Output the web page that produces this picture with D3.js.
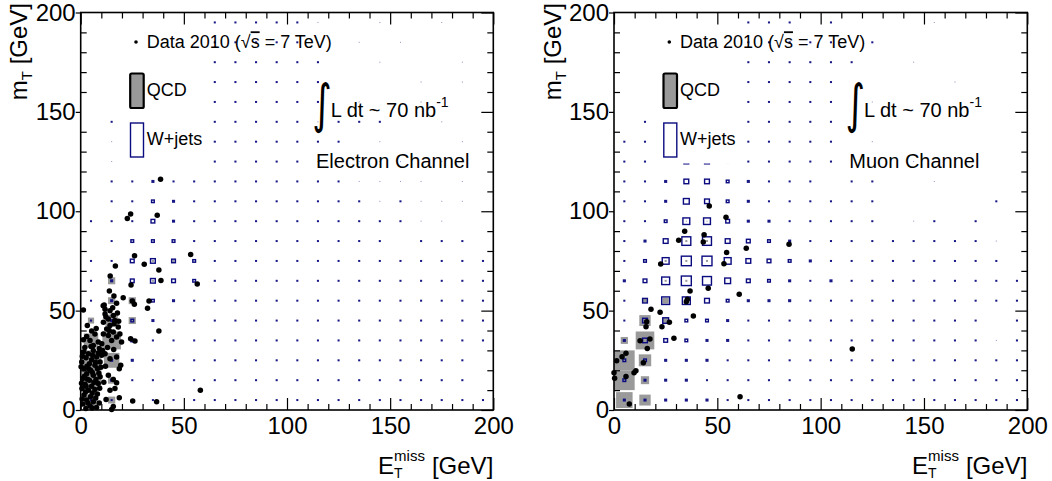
<!DOCTYPE html>
<html><head><meta charset="utf-8">
<script src="https://cdn.jsdelivr.net/npm/d3@7"></script>
<style>
body{margin:0;background:#fff}
text{font-family:"Liberation Sans",Arial,Helvetica,sans-serif;fill:#000}
</style>
</head><body>
<svg id="c" width="1052" height="481" style="background:#fff"></svg>
<script>
// ---------------- DATA ----------------
const binLo = [0,10,20,30,40,50,60,70,80,90,100,110,120,130,140,150,160,170,180,190];
const binWidth = 10;
const tickVals = [0,50,100,150,200];
const tickLabels = ["0","50","100","150","200"];
const xTitle = {main:"E", sub:"T", sup:"miss", unit:"[GeV]"};
const yTitle = {main:"m", sub:"T", unit:" [GeV]"};
const legendLabels = ["Data 2010 (", "√", "s", " = 7 TeV)", "QCD", "W+jets"];
const lumiLabel = ["∫", "L dt ~ 70 nb", "-1"];
const chanLabels = ["Electron Channel", "Muon Channel"];

// W+jets bin contents (box size units, 20 = full bin). Rows: mT 190-200 (top) ... 0-10 (bottom); columns: MET 0-10 ... 190-200
const eWjets = [
 [0,0,0,0,0,0,2,2,2,2,2,1,0,0,1,0,0,1,0,0],
 [0,0,0,0,0,0,2,2,2,2,2,1,0,1,0,1,0,0,0,0],
 [0,0,0,0,0,0,2,2,2,2,2,2,0,0,1,0,0,0,1,0],
 [0,0,0,0,0,0,2,2,2,2,2,2,0,0,0,0,1,0,1,0],
 [0,0,0,0,0,0,2,2,2,2,2,2,0,1,0,0,1,0,0,0],
 [0,2,0,0,0,0,2,2,2,2,2,1,2,2,2,0,0,1,0,0],
 [0,1,0,0,0,0,2,2,2,2,2,2,2,0,1,0,0,0,1,0],
 [0,1,0,0,0,0,2,2,2,2,2,1,1,1,1,1,0,1,0,0],
 [0,2,2,3,2,2,2,2,2,2,2,2,2,1,1,1,1,0,1,0],
 [0,2,2,4,3,2,2,2,2,2,2,2,2,2,1,2,1,1,1,0],
 [2,2,2,5,3,2,2,2,2,2,2,2,2,2,2,2,1,1,0,0],
 [0,2,4,4,4,2,2,2,2,2,2,2,2,2,2,0,2,2,2,0],
 [2,2,5,6,5,4,2,2,2,2,2,2,2,2,2,2,2,2,2,2],
 [2,3,5,6,5,4,2,2,2,2,2,2,2,2,2,2,2,2,2,2],
 [2,3,4,4,3,2,2,2,2,2,2,2,2,2,2,2,2,2,2,2],
 [2,3,4,3,2,2,2,2,2,2,2,2,2,2,2,2,2,2,2,2],
 [2,3,4,2,2,2,2,2,2,2,2,2,2,2,2,2,2,2,2,2],
 [2,3,3,2,2,2,2,2,2,2,2,2,2,2,2,2,2,2,2,0],
 [2,3,2,2,2,2,2,2,2,2,2,2,2,2,2,2,2,2,2,0],
 [2,2,2,2,2,2,2,2,2,2,2,2,2,2,2,2,2,2,2,2]
];
const eQCD = [
 [0,0,0,0,0,0,0,0,0,0,0,0,0,0,0,0,0,0,0,0],
 [0,0,0,0,0,0,0,0,0,0,0,0,0,0,0,0,0,0,0,0],
 [0,0,0,0,0,0,0,0,0,0,0,0,0,0,0,0,0,0,0,0],
 [0,0,0,0,0,0,0,0,0,0,0,0,0,0,0,0,0,0,0,0],
 [0,0,0,0,0,0,0,0,0,0,0,0,0,0,0,0,0,0,0,0],
 [0,0,0,0,0,0,0,0,0,0,0,0,0,0,0,0,0,0,0,0],
 [0,0,0,0,0,0,0,0,0,0,0,0,0,0,0,0,0,0,0,0],
 [0,0,0,0,0,0,0,0,0,0,0,0,0,0,0,0,0,0,0,0],
 [0,0,0,0,0,0,0,0,0,0,0,0,0,0,0,0,0,0,0,0],
 [0,0,0,0,0,0,0,0,0,0,0,0,0,0,0,0,0,0,0,0],
 [0,0,0,0,0,0,0,0,0,0,0,0,0,0,0,0,0,0,0,0],
 [0,0,0,0,0,0,0,0,0,0,0,0,0,0,0,0,0,0,0,0],
 [0,0,0,2,2,0,0,0,0,0,0,0,0,0,0,0,0,0,0,0],
 [0,7,0,2,0,0,0,0,0,0,0,0,0,0,0,0,0,0,0,0],
 [0,7,7,0,0,0,0,0,0,0,0,0,0,0,0,0,0,0,0,0],
 [6,12,7,0,0,0,0,0,0,0,0,0,0,0,0,0,0,0,0,0],
 [14,18,0,0,0,0,0,0,0,0,0,0,0,0,0,0,0,0,0,0],
 [20,15,0,0,0,0,0,0,0,0,0,0,0,0,0,0,0,0,0,0],
 [20,7,0,0,0,0,0,0,0,0,0,0,0,0,0,0,0,0,0,0],
 [13,7,0,0,0,0,0,0,0,0,0,0,0,0,0,0,0,0,0,0]
];
const mWjets = [
 [0,0,0,0,0,0,2,2,2,0,2,0,0,0,0,1,0,0,0,0],
 [0,0,0,0,0,0,2,2,2,2,2,0,2,0,0,0,0,0,0,0],
 [0,0,0,0,0,0,2,2,2,2,2,2,0,0,1,0,0,0,0,0],
 [0,0,0,0,0,0,2,2,2,2,2,0,0,0,0,0,1,0,0,0],
 [0,0,0,0,0,0,2,2,2,2,2,0,1,0,0,0,0,0,0,0],
 [0,2,0,0,0,0,2,2,2,2,2,0,0,0,0,0,0,0,0,0],
 [2,2,0,0,0,0,2,2,2,2,2,0,1,0,0,0,0,0,0,0],
 [2,2,2,6,6,3,2,2,2,2,2,0,0,0,1,0,0,0,0,0],
 [2,2,3,6,6,4,3,2,2,2,0,2,2,0,0,1,0,0,0,0],
 [2,2,3,7,6,4,3,2,2,2,2,2,2,0,0,0,0,0,2,0],
 [2,2,4,8,8,5,3,3,2,2,2,2,2,0,1,2,0,2,0,0],
 [2,3,6,10,10,6,5,4,3,2,2,2,2,2,2,2,2,2,1,0],
 [2,4,8,11,11,8,6,5,4,3,2,2,2,2,2,2,2,2,2,0],
 [3,5,9,11,10,7,5,4,3,2,3,2,2,2,2,2,2,2,2,2],
 [2,6,9,9,6,4,3,3,3,2,2,2,2,2,2,2,2,2,2,2],
 [2,6,7,4,4,3,2,2,2,2,2,2,2,2,2,2,2,2,0,2],
 [3,6,5,4,3,3,2,2,2,2,2,2,2,2,2,2,2,2,1,2],
 [4,4,3,3,3,2,2,2,2,2,2,2,2,2,2,2,2,2,2,2],
 [4,3,3,3,2,2,2,2,2,2,2,2,2,2,2,2,2,2,2,2],
 [3,3,3,3,3,2,2,2,2,2,2,2,2,2,2,2,2,2,2,2]
];
const mQCD = [
 [0,0,0,0,0,0,0,0,0,0,0,0,0,0,0,0,0,0,0,0],
 [0,0,0,0,0,0,0,0,0,0,0,0,0,0,0,0,0,0,0,0],
 [0,0,0,0,0,0,0,0,0,0,0,0,0,0,0,0,0,0,0,0],
 [0,0,0,0,0,0,0,0,0,0,0,0,0,0,0,0,0,0,0,0],
 [0,0,0,0,0,0,0,0,0,0,0,0,0,0,0,0,0,0,0,0],
 [0,0,0,0,0,0,0,0,0,0,0,0,0,0,0,0,0,0,0,0],
 [0,0,0,0,0,0,0,0,0,0,0,0,0,0,0,0,0,0,0,0],
 [0,0,0,0,0,0,0,0,0,0,0,0,0,0,0,0,0,0,0,0],
 [0,0,0,0,0,0,0,0,0,0,0,0,0,0,0,0,0,0,0,0],
 [0,0,0,0,0,0,0,0,0,0,0,0,0,0,0,0,0,0,0,0],
 [0,0,0,1,1,0,0,0,0,0,0,0,0,0,0,0,0,0,0,0],
 [0,0,0,2,2,0,0,0,0,0,0,0,0,0,0,0,0,0,0,0],
 [0,0,2,2,2,0,0,0,0,0,0,0,0,0,0,0,0,0,0,0],
 [0,0,2,2,0,0,0,0,0,0,0,0,0,0,0,0,0,0,0,0],
 [0,4,6,0,0,0,0,0,0,0,0,0,0,0,0,0,0,0,0,0],
 [0,11,6,0,0,0,0,0,0,0,0,0,0,0,0,0,0,0,0,0],
 [7,18,0,0,0,0,0,0,0,0,0,0,0,0,0,0,0,0,0,0],
 [20,12,0,0,0,0,0,0,0,0,0,0,0,0,0,0,0,0,0,0],
 [20,8,0,0,0,0,0,0,0,0,0,0,0,0,0,0,0,0,0,0],
 [16,11,0,0,0,0,0,0,0,0,0,0,0,0,0,0,0,0,0,0]
];

// Data 2010 events [MET, mT] in GeV
const eData = [
 [38.7,116.1],[24.2,98.6],[22.6,96.4],[37.1,98.0],[26.1,77.6],[16.8,72.5],[30.8,73.3],[37.9,70.4],
 [53.3,78.3],[38.9,65.1],[56.5,63.4],[14.3,67.4],[24.4,62.9],[13.9,59.9],[16.1,57.4],[20.6,56.5],
 [11.4,52.8],[17.4,53.7],[15.5,51.5],[25,54.8],[26,53.2],[33.1,54.8],[32.4,51.2],[11.8,50.7],
 [1.3,50.3],[10.9,52.5],[14.2,50],[11.8,48.3],[15.8,47.5],[13.4,45.8],[11,44.2],[16.6,45],
 [14.2,42.5],[18.2,41.7],[12.6,40.8],[15.8,39.2],[19,38.3],[11,38.3],[13.4,37.5],[17.4,36.7],
 [15,35],[19.8,34.2],[10.2,33.3],[12.2,46.8],[17.8,48.8],[16.2,43.4],[13.8,40],[18.4,44.6],
 [37.9,39.7],[24.2,35.8],[26.3,34.7],
 [5.3,39.7],[6.9,38.3],[2.9,37],[1.3,35.3],[4.5,35],[8.5,34.2],[6.1,32.5],[3.2,42.5],[7.5,41],
 [1.3,29.2],[3.7,28.3],[6.1,30],[8.5,28.7],[10.2,27.5],[2.6,26.3],[5.3,25.3],[7.7,26.7],
 [0.5,24.2],[4.2,23.3],[6.9,22.5],[9.4,24.2],[1.6,20.8],[4.8,20],[8.1,20.8],[2.9,18.3],
 [6.1,17.5],[1,15.8],[4.2,15],[7.4,15.3],[2.1,13],[5.3,12],[8.5,13.3],[0.6,10.8],
 [3.7,10],[6.9,10.3],[1.6,7.5],[4.8,6.7],[8.1,8],[2.9,5],[6.1,4.2],[1,3],
 [4.5,2],[7.7,1.3],[2.6,12],[9.4,16.7],[5.8,27.5],[10.6,30],[0.2,21.7],[3.9,20.8],
 [2,31.5],[5,32],[9,31],[0.8,27],[3,22],[7.2,24],[9.8,21.5],[1.8,17],
 [5.6,19],[8.8,18.5],[0.4,13.5],[3.3,15.5],[6.4,13.8],[9.2,11],[2.3,9],[5.6,8.5],
 [7.3,6],[0.7,5.5],[3.5,3.5],[5.5,1],[9,3.5],[2.5,0.8],
 [11.8,28.3],[14.2,25.8],[17.4,26.7],[19.4,22.5],[18.7,20.8],[13.4,17.5],[15.8,15.3],[17.4,13.7],
 [14.2,10],[16.6,10.8],[12.3,5.3],[18.7,6.2],[15.8,1.7],[15,0.3],[12,22],[11.2,14],[13,31.5],[16,30.5],
 [25.2,4.5],[36.8,4.2],[58,10]
];
const mData = [
 [46.1,102.6],[54.2,97],[34.2,89.9],[31.3,85.4],[43.6,88.2],[43.2,84.5],[64,81.4],[84.7,83.4],
 [54.5,79.3],[53.2,73.6],[22.6,73.5],[36.8,59.9],[45.6,61.2],[60.6,58.2],[35.5,55.7],[35,54.5],
 [17.9,50.7],[22.3,49.2],[38.4,47.3],[26.8,44.1],[15.8,44.4],[15.5,41.9],[23.2,41.9],[29,36.1],
 [17.4,35.7],[12.6,34.9],[16.1,30.9],[5.8,28.5],[3.9,26.8],[1.3,24.8],[14.2,23.8],[10.6,19.8],
 [9.7,18.8],[0,18.8],[0.3,16],[5.8,16.8],[7.4,3],[61,6.7],[115.3,30.7]
];

// ---------------- DRAWING ----------------
const svg = d3.select('#c');
const Y0 = 410, Y1 = 12.5;
const NAVY = '#0b0b80', GREY = '#9a9a9a';
const FONT = '"Liberation Sans",Arial,Helvetica,sans-serif';

const panels = [
 {x0:80.7, x1:493.3, wj:eWjets, qcd:eQCD, data:eData, channel:chanLabels[0]},
 {x0:614, x1:1027.3, wj:mWjets, qcd:mQCD, data:mData, channel:chanLabels[1]}
];
panels.forEach(drawPanel);

function drawPanel(p){
  const x = d3.scaleLinear().domain([0,200]).range([p.x0,p.x1]);
  const y = d3.scaleLinear().domain([0,200]).range([Y0,Y1]);
  const bw = x(binWidth)-x(0), bh = y(0)-y(binWidth);
  const sx = d3.scaleLinear().domain([0,20]).range([0,bw]);
  const sy = d3.scaleLinear().domain([0,20]).range([0,bh]);
  const nRows = binLo.length;
  const cells = m => m.flatMap((row,r)=>row.map((v,i)=>({
      cx: binLo[i]+binWidth/2, cy: binLo[nRows-1-r]+binWidth/2, v})).filter(d=>d.v>0));
  const g = svg.append('g');

  // QCD grey boxes
  g.append('g').selectAll('rect').data(cells(p.qcd)).join('rect')
    .attr('x',d=>x(d.cx)-sx(d.v)/2).attr('y',d=>y(d.cy)-sy(d.v)/2)
    .attr('width',d=>sx(d.v)).attr('height',d=>sy(d.v))
    .attr('fill',GREY);

  // W+jets boxes
  const wc = cells(p.wj);
  const big = wc.filter(d=>d.v>=4), small = wc.filter(d=>d.v<4);
  const sw = 1.4;
  g.append('g').selectAll('rect').data(big).join('rect')
    .attr('x',d=>x(d.cx)-sx(d.v)/2+sw/2).attr('y',d=>y(d.cy)-sy(d.v)/2+sw/2)
    .attr('width',d=>sx(d.v)-sw).attr('height',d=>sy(d.v)-sw)
    .attr('fill','none').attr('stroke',NAVY).attr('stroke-width',sw);
  g.append('g').selectAll('rect').data(small).join('rect')
    .attr('x',d=>x(d.cx)-sx(d.v)/2).attr('y',d=>y(d.cy)-sy(d.v)/2)
    .attr('width',d=>sx(d.v)).attr('height',d=>sy(d.v))
    .attr('fill',NAVY).attr('fill-opacity',d=>d.v<2?0.45:0.95);

  // data points
  g.append('g').selectAll('circle').data(p.data).join('circle')
    .attr('cx',d=>x(d[0])).attr('cy',d=>y(d[1])).attr('r',2.75).attr('fill','#000');

  // legend (white box)
  const lx = p.x0;
  g.append('rect').attr('x',lx+37.5).attr('y',Y1+1).attr('width',87.5).attr('height',150)
    .attr('fill','#fff');
  g.append('circle').attr('cx',lx+55.3).attr('cy',42).attr('r',1.8).attr('fill','#000');
  const t1 = g.append('text').attr('x',lx+66).attr('y',48.3).attr('font-size',18);
  t1.append('tspan').text(legendLabels[0]);
  t1.append('tspan').text(legendLabels[1]);
  t1.append('tspan').text(legendLabels[2]).style('text-decoration','overline');
  t1.append('tspan').text(legendLabels[3]);
  g.append('rect').attr('x',lx+49.5).attr('y',73.5).attr('width',13.5).attr('height',34.5)
    .attr('rx',1.5).attr('fill','#999').attr('stroke','#000').attr('stroke-width',2.2);
  g.append('text').attr('x',lx+66).attr('y',96).attr('font-size',18).text(legendLabels[4]);
  g.append('rect').attr('x',lx+49.8).attr('y',123).attr('width',13).attr('height',34)
    .attr('fill','#fff').attr('stroke',NAVY).attr('stroke-width',1.4);
  g.append('text').attr('x',lx+66).attr('y',144.5).attr('font-size',18).text(legendLabels[5]);

  // luminosity + channel
  g.append('text').attr('transform',`translate(${lx+231.5},122) scale(0.85,1.2)`).attr('font-size',44)
    .style('font-family','"DejaVu Sans",sans-serif').text(lumiLabel[0]);
  const t2 = g.append('text').attr('x',lx+250).attr('y',117.3).attr('font-size',20);
  t2.append('tspan').text(lumiLabel[1]);
  t2.append('tspan').attr('font-size',14).attr('dy',-10).text(lumiLabel[2]);
  g.append('text').attr('x',lx+235.3).attr('y',168.3).attr('font-size',20).text(p.channel);

  // frame
  g.append('rect').attr('x',p.x0).attr('y',Y1).attr('width',p.x1-p.x0).attr('height',Y0-Y1)
    .attr('fill','none').attr('stroke','#000').attr('stroke-width',1.6);

  // axes
  const minors = d3.range(0,201,10).filter(v=>v%50!==0);
  const style = sel => { sel.select('.domain').remove();
    sel.selectAll('line').attr('stroke','#000').attr('stroke-width',1.2);
    sel.selectAll('text').attr('font-size',24).attr('font-family',FONT).attr('fill','#000'); };
  const fmt = d=>tickLabels[tickVals.indexOf(d)];
  g.append('g').attr('transform',`translate(0,${Y0})`)
    .call(d3.axisBottom(x).tickValues(tickVals).tickFormat(fmt).tickSize(-12).tickSizeOuter(0).tickPadding(7)).call(style);
  g.append('g').attr('transform',`translate(0,${Y0})`)
    .call(d3.axisBottom(x).tickValues(minors).tickFormat('').tickSize(-6).tickSizeOuter(0)).call(style);
  g.append('g').attr('transform',`translate(0,${Y1})`)
    .call(d3.axisTop(x).tickValues(tickVals).tickFormat('').tickSize(-12).tickSizeOuter(0)).call(style);
  g.append('g').attr('transform',`translate(0,${Y1})`)
    .call(d3.axisTop(x).tickValues(minors).tickFormat('').tickSize(-6).tickSizeOuter(0)).call(style);
  g.append('g').attr('transform',`translate(${p.x0},0)`)
    .call(d3.axisLeft(y).tickValues(tickVals).tickFormat(fmt).tickSize(5).tickSizeOuter(0).tickPadding(0)).call(style);
  g.append('g').attr('transform',`translate(${p.x0},0)`)
    .call(d3.axisLeft(y).tickValues(minors).tickFormat('').tickSize(-6).tickSizeOuter(0)).call(style);
  g.append('g').attr('transform',`translate(${p.x1},0)`)
    .call(d3.axisRight(y).tickValues(tickVals).tickFormat('').tickSize(-12).tickSizeOuter(0)).call(style);
  g.append('g').attr('transform',`translate(${p.x1},0)`)
    .call(d3.axisRight(y).tickValues(minors).tickFormat('').tickSize(-6).tickSizeOuter(0)).call(style);

  // x-axis title: E_T^miss [GeV], right-aligned to the axis end
  const unit = g.append('text').attr('x',p.x1).attr('y',474).attr('text-anchor','end')
    .attr('font-size',24).text(xTitle.unit);
  const uw = unit.node().getComputedTextLength();
  const sx0 = p.x1 - uw - 7;
  const sup = g.append('text').attr('x',sx0).attr('y',461).attr('text-anchor','end')
    .attr('font-size',15).text(xTitle.sup);
  const supW = sup.node().getComputedTextLength();
  g.append('text').attr('x',sx0-supW).attr('y',477.5).attr('font-size',14).text(xTitle.sub);
  g.append('text').attr('x',sx0-supW).attr('y',474).attr('text-anchor','end')
    .attr('font-size',24).text(xTitle.main);

  // y-axis title: m_T [GeV]
  const yt = g.append('text').attr('transform',`translate(${p.x0-53.5},3) rotate(-90)`)
    .attr('text-anchor','end').attr('font-size',24);
  yt.append('tspan').text(yTitle.main);
  yt.append('tspan').attr('font-size',15).attr('dy',5).text(yTitle.sub);
  yt.append('tspan').attr('dy',-5).text(yTitle.unit);
}
</script>
</body></html>
